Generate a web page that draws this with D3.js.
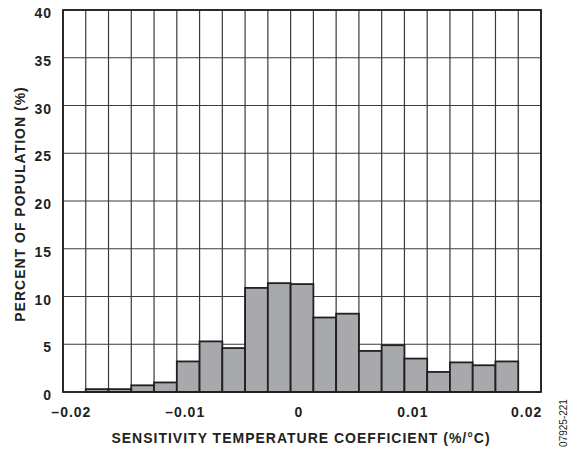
<!DOCTYPE html>
<html>
<head>
<meta charset="utf-8">
<script src="https://cdn.jsdelivr.net/npm/d3@7"></script>
<style>
  html, body { margin: 0; padding: 0; background: #ffffff; }
  svg { display: block; }
  text { font-family: "Liberation Sans", Arial, Helvetica, sans-serif; }
</style>
</head>
<body>
<svg id="chart" width="573" height="454"></svg>
<script>
// ---- data ----
const binCenters = [-0.020, -0.018, -0.016, -0.014, -0.012, -0.010, -0.008, -0.006, -0.004, -0.002,
                    0.000, 0.002, 0.004, 0.006, 0.008, 0.010, 0.012, 0.014, 0.016, 0.018, 0.020];
const percentValues = [0, 0.3, 0.3, 0.7, 1.0, 3.2, 5.3, 4.6, 10.9, 11.4,
                       11.3, 7.8, 8.2, 4.3, 4.9, 3.5, 2.1, 3.1, 2.8, 3.2, 0];
const binWidth = 0.002;
const xTickValues = [-0.02, -0.01, 0, 0.01, 0.02];
const xTickLabels = ["\u20130.02", "\u20130.01", "0", "0.01", "0.02"];
const yTickValues = [0, 5, 10, 15, 20, 25, 30, 35, 40];
const yTickLabels = ["0", "5", "10", "15", "20", "25", "30", "35", "40"];
const xTitle = "SENSITIVITY TEMPERATURE COEFFICIENT (%/\u00B0C)";
const yTitle = "PERCENT OF POPULATION (%)";
const figId = "07925-221";

// ---- layout ----
const plotLeft = 63, plotRight = 541, plotTop = 10, plotBottom = 392;
const svg = d3.select("#chart");

const x = d3.scaleLinear()
  .domain([binCenters[0] - binWidth / 2, binCenters[binCenters.length - 1] + binWidth / 2])
  .range([plotLeft, plotRight]);
const y = d3.scaleLinear().domain([0, 40]).range([plotBottom, plotTop]);

const edges = binCenters.map(c => c - binWidth / 2).concat([binCenters[binCenters.length - 1] + binWidth / 2]);

// grid
const grid = svg.append("g").attr("stroke", "#3a3a3a").attr("stroke-width", 1.2);
grid.selectAll("line.v").data(edges).enter().append("line")
  .attr("x1", d => x(d)).attr("x2", d => x(d))
  .attr("y1", plotTop).attr("y2", plotBottom);
grid.selectAll("line.h").data(yTickValues).enter().append("line")
  .attr("x1", plotLeft).attr("x2", plotRight)
  .attr("y1", d => y(d)).attr("y2", d => y(d));

// bars
const bars = binCenters.map((c, i) => ({ c, v: percentValues[i] })).filter(d => d.v > 0);
svg.append("g").selectAll("rect").data(bars).enter().append("rect")
  .attr("x", d => x(d.c - binWidth / 2))
  .attr("width", d => x(d.c + binWidth / 2) - x(d.c - binWidth / 2))
  .attr("y", d => y(d.v))
  .attr("height", d => y(0) - y(d.v))
  .attr("fill", "#a7a9ac")
  .attr("stroke", "#231f20")
  .attr("stroke-width", 1.8);

// frame
svg.append("rect")
  .attr("x", plotLeft).attr("y", plotTop)
  .attr("width", plotRight - plotLeft).attr("height", plotBottom - plotTop)
  .attr("fill", "none").attr("stroke", "#231f20").attr("stroke-width", 1.8);

// y tick labels
svg.append("g").selectAll("text").data(yTickValues).enter().append("text")
  .attr("x", 52).attr("y", d => y(d) + 8)
  .attr("text-anchor", "end")
  .attr("font-size", 14).attr("font-weight", "bold")
  .attr("letter-spacing", 1)
  .attr("fill", "#231f20")
  .text((d, i) => yTickLabels[i]);

// x tick labels
svg.append("g").selectAll("text").data(xTickValues).enter().append("text")
  .attr("x", d => x(d) - 3).attr("y", 417)
  .attr("text-anchor", "middle")
  .attr("font-size", 14).attr("font-weight", "bold")
  .attr("letter-spacing", 1)
  .attr("fill", "#231f20")
  .text((d, i) => xTickLabels[i]);

// axis titles
svg.append("text")
  .attr("x", 301).attr("y", 442.5)
  .attr("text-anchor", "middle")
  .attr("font-size", 14).attr("font-weight", "bold")
  .attr("letter-spacing", 1)
  .attr("fill", "#231f20")
  .text(xTitle);

svg.append("text")
  .attr("transform", "translate(25,204) rotate(-90)")
  .attr("text-anchor", "middle")
  .attr("font-size", 14).attr("font-weight", "bold")
  .attr("letter-spacing", 1)
  .attr("fill", "#231f20")
  .text(yTitle);

svg.append("text")
  .attr("transform", "translate(567,423) rotate(-90)")
  .attr("text-anchor", "middle")
  .attr("font-size", 10)
  .attr("fill", "#231f20")
  .text(figId);
</script>
</body>
</html>
